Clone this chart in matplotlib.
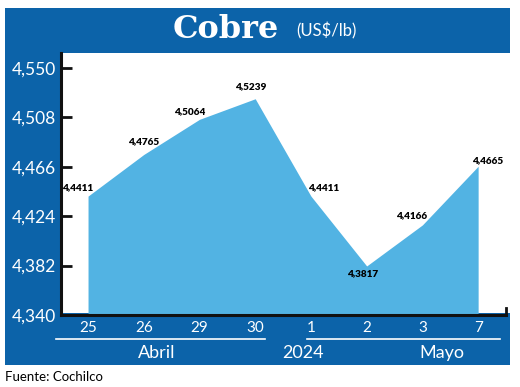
import matplotlib
matplotlib.use("Agg")
import matplotlib.pyplot as plt
from matplotlib.patches import Rectangle
from matplotlib.lines import Line2D

# Data
categories = ["25", "26", "29", "30", "1", "2", "3", "7"]
values = [4.4411, 4.4765, 4.5064, 4.5239, 4.4411, 4.3817, 4.4166, 4.4665]
value_labels = ["4,4411", "4,4765", "4,5064", "4,5239", "4,4411", "4,3817", "4,4166", "4,4665"]
yticks = [4.340, 4.382, 4.424, 4.466, 4.508, 4.550]
ytick_labels = ["4,340", "4,382", "4,424", "4,466", "4,508", "4,550"]
months = ["Abril", "2024", "Mayo"]

# label offsets in pixels (dx, dy)
offsets = [(-10, 9), (0, 13), (-10, 8), (-5, 12), (13, 9), (-4, -8), (-11, 9), (9, 6)]

W, H = 520, 387
DARK = "#0c63a9"
LIGHT = "#52b3e3"

fig = plt.figure(figsize=(W / 100, H / 100), dpi=100)
fig.patch.set_facecolor("white")

def fx(x):
    return x / W

def fy(y):
    return 1 - y / H

# Blue frame
fig.patches.append(Rectangle((fx(5), fy(365)), fx(510) - fx(5), fy(8) - fy(365),
                             transform=fig.transFigure, facecolor=DARK, edgecolor="none", zorder=-2))
# White plot region
fig.patches.append(Rectangle((fx(60), fy(313)), fx(511) - fx(60), fy(53) - fy(313),
                             transform=fig.transFigure, facecolor="white", edgecolor="none", zorder=-1))

left, right, top, bottom = 61, 506, 53, 315
ax = fig.add_axes([fx(left), fy(bottom), fx(right) - fx(left), fy(top) - fy(bottom)])
ax.set_facecolor("none")
ax.set_zorder(1)

x = list(range(len(categories)))
ax.fill_between(x, values, 4.340, color=LIGHT, linewidth=0, zorder=1)
ax.set_xlim(-0.485, 7.50)
ax.set_ylim(4.340, 4.5628)

ax.set_yticks(yticks)
ax.set_yticklabels(ytick_labels, family="Lato", fontsize=12.5, color="white")
ax.tick_params(axis="y", direction="in", length=8, width=2, color="#111111", pad=3.5)
ax.set_xticks(x)
ax.set_xticklabels(categories, family="Lato", fontsize=11, color="white")
ax.tick_params(axis="x", length=0, pad=4)

for s in ["top", "right"]:
    ax.spines[s].set_visible(False)
for s in ["left", "bottom"]:
    ax.spines[s].set_linewidth(2.2)
    ax.spines[s].set_color("#111111")
ax.plot([1, 1], [0, 0.025], transform=ax.transAxes, color="#111111", lw=2, clip_on=False)

for xi, v, lab, (dx, dy) in zip(x, values, value_labels, offsets):
    ax.annotate(lab, (xi, v), xytext=(dx, dy), textcoords="offset pixels",
                ha="center", va="center", fontsize=7.2, fontweight="heavy",
                family="Lato", color="black", zorder=3)

# Title
fig.text(fx(226), fy(29), "Cobre", family="DejaVu Serif", fontweight="bold",
         fontsize=23, color="white", ha="center", va="center")
fig.text(fx(326), fy(31), "(US$/lb)", family="Lato", fontsize=12, color="white",
         ha="center", va="center")

# Month underlines
fig.add_artist(Line2D([fx(56), fx(265)], [fy(339), fy(339)], transform=fig.transFigure,
                      color="white", lw=1.2))
fig.add_artist(Line2D([fx(307), fx(500)], [fy(339), fy(339)], transform=fig.transFigure,
                      color="white", lw=1.2))
for m, mx in zip(months, [157, 303, 442]):
    fig.text(fx(mx), fy(353), m, family="Lato", fontsize=13, color="white",
             ha="center", va="center")

fig.text(fx(5), fy(377), "Fuente: Cochilco", family="Lato", fontsize=9.5, color="black",
         ha="left", va="center")

fig.savefig("out.png", dpi=100)
